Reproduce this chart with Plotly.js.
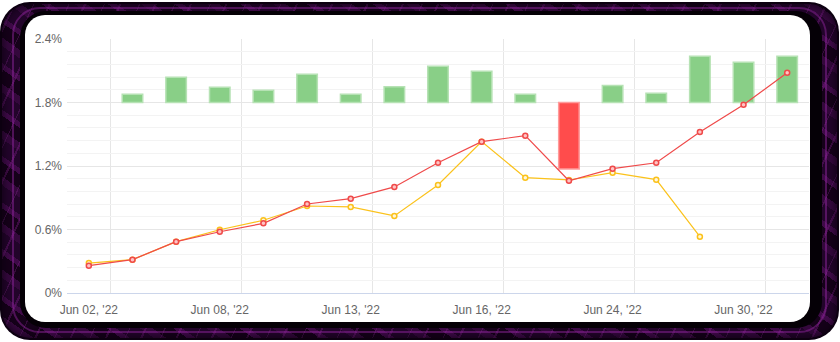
<!DOCTYPE html>
<html>
<head>
<meta charset="utf-8">
<script src="https://cdn.plot.ly/plotly-3.0.1.min.js"></script>
<style>
  html, body { margin:0; padding:0; width:840px; height:342px; background:#ffffff; overflow:hidden; }
  #frame { position:absolute; left:0; top:2px; width:839px; height:338px; border-radius:30px;
    background:
      repeating-linear-gradient(115deg, rgba(0,0,0,0) 0 13px, rgba(130,30,140,0.35) 13px 15px, rgba(0,0,0,0) 15px 31px, rgba(150,45,160,0.25) 31px 32px),
      repeating-linear-gradient(35deg, #22042a 0 14px, #34083c 14px 21px, #150119 21px 33px, #3f0a48 33px 38px);
    box-shadow: inset 0 0 0 2px #0c0010, inset 0 0 6px 4px rgba(10,0,14,0.6);
  }
  #glow { position:absolute; left:12px; top:7px; width:815px; height:326px; border-radius:28px;
    border:2px solid rgba(150,40,165,0.45); box-sizing:border-box; }
  #rim { position:absolute; left:20px; top:11px; width:802px; height:317px; border-radius:26px; background:#050006; }
  #card { position:absolute; left:25px; top:15px; width:785px; height:307px; border-radius:20px; background:#ffffff; }
  #chart { position:absolute; left:0; top:0; width:840px; height:342px; }
</style>
</head>
<body>
<div id="frame"></div>
<div id="glow"></div>
<div id="rim"></div>
<div id="card"></div>
<div id="chart"></div>
<script>
// ---- data ----
const categories = ["Jun 02, '22","Jun 03, '22","Jun 06, '22","Jun 08, '22","Jun 09, '22","Jun 10, '22",
  "Jun 13, '22","Jun 14, '22","Jun 15, '22","Jun 16, '22","Jun 17, '22","Jun 21, '22",
  "Jun 24, '22","Jun 27, '22","Jun 28, '22","Jun 30, '22","Jul 01, '22"];
const redSeries    = [0.258,0.315,0.485,0.579,0.658,0.841,0.891,1.002,1.231,1.430,1.487,1.061,1.175,1.231,1.521,1.779,2.082];
const yellowSeries = [0.283,0.315,0.485,0.598,0.687,0.822,0.813,0.728,1.021,1.430,1.090,1.068,1.137,1.071,0.532,null,null];
const barValues    = [null,0.077,0.238,0.144,0.115,0.266,0.077,0.150,0.342,0.295,0.077,-0.628,0.160,0.087,0.436,0.380,0.436];
const barBase = 1.8;
const yTickVals = [0,0.6,1.2,1.8,2.4];
const yTickText = ["0%","0.6%","1.2%","1.8%","2.4%"];
const xTickStep = 3;

// ---- build ----
const idx = categories.map((_, i) => i);
const xTickVals = idx.filter(i => i % xTickStep === 0);
const xTickText = xTickVals.map(i => categories[i]);
const xGridVals = [-0.5].concat(xTickVals.map(v => v + 0.5)).concat([categories.length - 0.5]);

const barX = [], barY = [], barFill = [], barLine = [];
barValues.forEach((v, i) => {
  if (v === null) return;
  barX.push(i); barY.push(v);
  barFill.push(v >= 0 ? '#89cf87' : '#ff4c4c');
  barLine.push(v >= 0 ? '#b6e2b4' : '#ff9c9c');
});

const traces = [
  { type:'bar', x:barX, y:barY, base:barBase, width:0.47,
    marker:{ color:barFill, line:{ color:barLine, width:1.5 } }, hoverinfo:'skip' },
  { type:'scatter', mode:'lines+markers', x:idx, y:yellowSeries, connectgaps:false,
    line:{ color:'#fbc21b', width:1.2 },
    marker:{ symbol:'circle', size:5, color:'#fff6dc', line:{ color:'#fbc21b', width:1.5 } }, hoverinfo:'skip' },
  { type:'scatter', mode:'lines+markers', x:idx, y:redSeries,
    line:{ color:'#ef4a4a', width:1.2 },
    marker:{ symbol:'circle', size:5, color:'#ffc4c4', line:{ color:'#ef4a4a', width:1.5 } }, hoverinfo:'skip' }
];

const layout = {
  width:840, height:342,
  margin:{ l:67, r:31, t:39, b:49, pad:0 },
  paper_bgcolor:'rgba(0,0,0,0)', plot_bgcolor:'rgba(0,0,0,0)',
  showlegend:false,
  font:{ family:'"Liberation Sans", Arial, sans-serif', size:12, color:'#666666' },
  xaxis:{ range:[-0.5, categories.length - 0.5], tickmode:'array', tickvals:xTickVals, ticktext:xTickText,
    showgrid:false, zeroline:false, showline:true, linecolor:'#ccd6eb', linewidth:1,
    ticks:'', ticklabelstandoff:6,
    minor:{ tickmode:'array', tickvals:xGridVals, showgrid:true, gridcolor:'#e6e6e6', gridwidth:1, ticks:'' },
    tickfont:{ size:12, color:'#666666' } },
  yaxis:{ range:[0, 2.4], tickmode:'array', tickvals:yTickVals, ticktext:yTickText,
    showgrid:true, gridcolor:'#e6e6e6', gridwidth:1, zeroline:false,
    showline:false, ticks:'', ticklabelstandoff:4,
    minor:{ dtick:0.12, showgrid:true, gridcolor:'#f3f3f3', gridwidth:1, ticks:'' },
    tickfont:{ size:12, color:'#666666' } },
  bargap:0
};

Plotly.newPlot('chart', traces, layout, { displayModeBar:false, staticPlot:true });
</script>
</body>
</html>
